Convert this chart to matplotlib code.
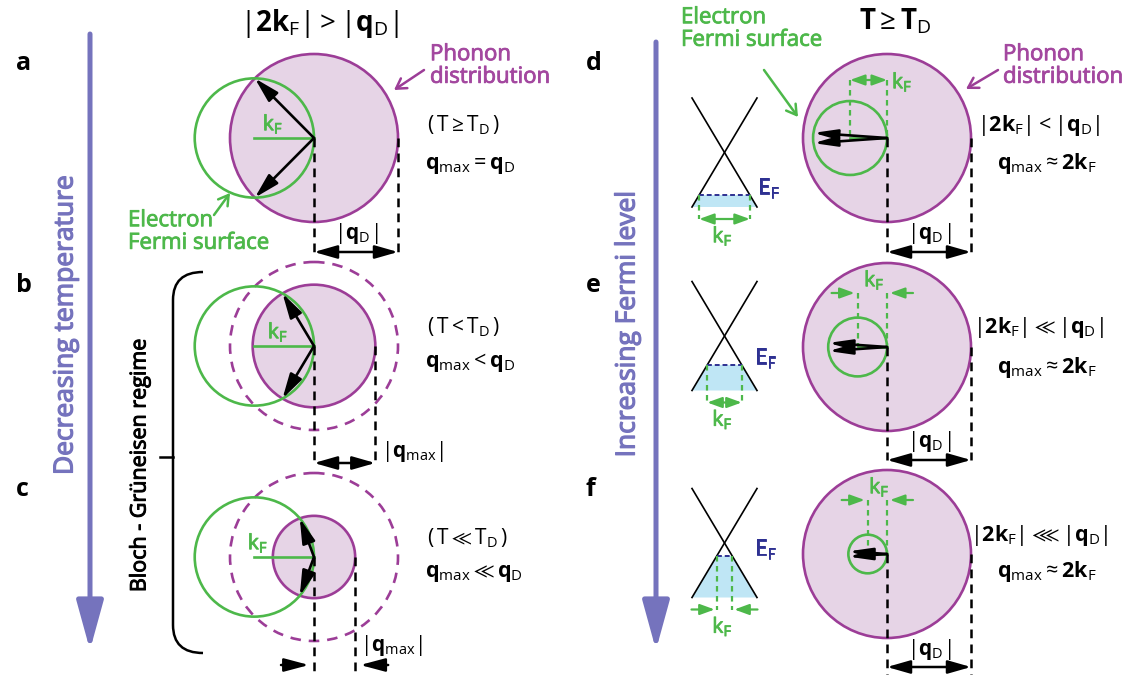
import numpy as np
import matplotlib.pyplot as plt
import matplotlib.patheffects as pe
from matplotlib.patches import Circle, Polygon, PathPatch
from matplotlib.path import Path

plt.rcParams['font.family'] = ['Open Sans', 'DejaVu Sans']
plt.rcParams['mathtext.fontset'] = 'custom'
plt.rcParams['mathtext.rm'] = 'Open Sans'
plt.rcParams['mathtext.bf'] = 'Open Sans:bold'
plt.rcParams['mathtext.it'] = 'Open Sans:italic'
plt.rcParams['mathtext.fallback'] = 'stixsans'

# --- data (radii in units of q_D) ---
left_panels = ["a", "b", "c"]
left_qmax = [1.0, 0.73, 0.49]          # phonon sphere radius / q_D
left_kF = [0.71, 0.71, 0.71]           # electron Fermi radius / q_D
left_temp = [r"$(\,\mathrm{T} \geq \mathrm{T}_\mathrm{D}\,)$",
             r"$(\,\mathrm{T} < \mathrm{T}_\mathrm{D}\,)$",
             r"$(\,\mathrm{T} \ll \mathrm{T}_\mathrm{D}\,)$"]
left_qlab = [r"$\mathbf{q}_\mathrm{max} = \mathbf{q}_\mathrm{D}$",
             r"$\mathbf{q}_\mathrm{max} < \mathbf{q}_\mathrm{D}$",
             r"$\mathbf{q}_\mathrm{max} \ll \mathbf{q}_\mathrm{D}$"]

right_panels = ["d", "e", "f"]
right_kF = [0.44, 0.35, 0.23]          # electron Fermi radius / q_D
right_EF = [0.78, 0.53, 0.24]          # E_F depth below Dirac point / cone half height
right_cmp = [r"$|\mathbf{2k}_\mathrm{F}| < |\mathbf{q}_\mathrm{D}|$",
             r"$|\mathbf{2k}_\mathrm{F}| \ll |\mathbf{q}_\mathrm{D}|$",
             r"$|\mathbf{2k}_\mathrm{F}| \lll |\mathbf{q}_\mathrm{D}|$"]
right_qlab = r"$\mathbf{q}_\mathrm{max} \approx \mathbf{2k}_\mathrm{F}$"

# --- colours / layout ---
PURPLE = '#9c3d97'
PTEXT = '#a3479f'
PFILL = '#e6d4e6'
GREEN = '#4db84a'
BLUE = '#7573bd'
NAVY = '#2e3192'
LBLUE = '#bfe6f5'

RD = 84
left_cx = 314
left_cy = [138, 346, 557]
right_cx = 887
right_cy = [138, 347, 554]
label_y = [63, 285, 490]
cone_x = 724.5
cone_y = [152.5, 336, 543]
cone_hw, cone_hh = 32.5, 54.5

fig = plt.figure(figsize=(11.37, 6.75), dpi=100)
ax = fig.add_axes([0, 0, 1, 1])
ax.set_xlim(0, 1137)
ax.set_ylim(675, 0)
ax.axis('off')


def arrow(x0, y0, x1, y1, color='black', style='-|>', lw=1.8, ms=10, z=5):
    ax.annotate("", xy=(x1, y1), xytext=(x0, y0),
                arrowprops=dict(arrowstyle=style, color=color, lw=lw,
                                shrinkA=0, shrinkB=0, mutation_scale=ms),
                zorder=z)


def semi(color, w=0.6):
    # thicken regular glyphs a little, like a semibold face
    return [pe.withStroke(linewidth=w, foreground=color)]


HEAD = "-|>,head_length=1.5,head_width=0.4"
DHEAD = "<|-|>,head_length=1.4,head_width=0.4"
GHEAD = "-|>,head_length=1.1,head_width=0.4"
GDHEAD = "<|-|>,head_length=1.1,head_width=0.4"
OPEN = "->,head_length=0.5,head_width=0.3"
dash = dict(color='black', lw=1.8, ls=(0, (3.5, 2.5)))
gdash = dict(color=GREEN, lw=1.6, ls=(0, (2.5, 2)))
KF = r"$\mathrm{k}_\mathrm{F}$"

# titles
ax.text(319, 24, r"$|\mathbf{2k}_\mathrm{F}| > |\mathbf{q}_\mathrm{D}|$", fontsize=20,
        ha='center', va='center')
ax.text(895, 22, r"$\mathbf{T} \geq \mathbf{T}_\mathrm{D}$", fontsize=20,
        ha='center', va='center')

# big side arrows
arrow(90, 34, 90, 650, color=BLUE, style="-|>,head_length=2.0,head_width=0.55", lw=3.6, ms=15)
ax.text(66, 325, "Decreasing temperature", color=BLUE, fontsize=19, rotation=90,
        ha='center', va='center', path_effects=semi(BLUE, 0.9))
arrow(656, 42, 656, 650, color=BLUE, style="-|>,head_length=2.0,head_width=0.55", lw=3.6, ms=15)
ax.text(628, 324, "Increasing Fermi level", color=BLUE, fontsize=19, rotation=90,
        ha='center', va='center', path_effects=semi(BLUE, 0.9))

# Bloch-Grüneisen bracket
verts = [(203, 272), (173, 272), (173, 300), (173, 625), (173, 653), (203, 653)]
codes = [Path.MOVETO, Path.CURVE3, Path.CURVE3, Path.LINETO, Path.CURVE3, Path.CURVE3]
ax.add_patch(PathPatch(Path(verts, codes), fc='none', ec='black', lw=1.8))
ax.plot([160, 173], [457, 457], color='black', lw=1.8)
ax.text(140, 465, "Bloch - Grüneisen regime", fontsize=15.5, rotation=90,
        ha='center', va='center', path_effects=semi('black', 0.7))

# ---- left column a-c ----
kf_lab_x = [273, 278, 258]
temp_dy = [-13, -19, -19]
qlab_dy = [27, 16, 16]
for i, lab in enumerate(left_panels):
    cx, cy = left_cx, left_cy[i]
    q = left_qmax[i] * RD
    rF = left_kF[i] * RD
    ax.text(16, label_y[i], lab, fontsize=18, fontweight='bold', ha='left', va='center')
    ax.add_patch(Circle((cx, cy), q, fc=PFILL, ec=PURPLE, lw=1.9, zorder=1))
    if i > 0:
        ax.add_patch(Circle((cx, cy), RD, fc='none', ec=PURPLE, lw=1.9,
                            ls=(0, (4, 3)), zorder=2))
    ax.add_patch(Circle((cx - rF, cy), rF, fc='none', ec=GREEN, lw=1.9, zorder=3))
    # kF radius
    ax.plot([cx - rF, cx], [cy, cy], color=GREEN, lw=1.9, zorder=3)
    ax.text(kf_lab_x[i], cy - 14, KF, color=GREEN, fontsize=15,
            ha='center', va='center', zorder=4, path_effects=semi(GREEN))
    # scattering vectors to the intersection points
    xi = -q ** 2 / (2 * rF)
    yi = np.sqrt(q ** 2 - xi ** 2)
    for s in (-1, 1):
        arrow(cx, cy, cx + xi, cy + s * yi, style=HEAD, lw=1.9, ms=10)
    # q extent
    ybot = 252 if i == 0 else (463 if i == 1 else 690)
    ax.plot([cx, cx], [cy, ybot], **dash, zorder=4)
    ax.plot([cx + q, cx + q], [cy, ybot], **dash, zorder=4)
    ax.text(427, cy + temp_dy[i], left_temp[i], fontsize=15, ha='left', va='center')
    ax.text(425, cy + qlab_dy[i], left_qlab[i], fontsize=15.5, ha='left', va='center')

# q arrows and labels, left
arrow(left_cx, 252, left_cx + RD, 252, style=DHEAD, lw=1.8, ms=10)
ax.text(left_cx + RD / 2, 234, r"$|\mathbf{q}_\mathrm{D}|$", fontsize=15, ha='center', va='center')
q_b = left_qmax[1] * RD
arrow(left_cx, 463, left_cx + q_b, 463, style=DHEAD, lw=1.8, ms=10)
ax.text(left_cx + q_b + 6, 452, r"$|\mathbf{q}_\mathrm{max}|$", fontsize=15, ha='left', va='center')
q_c = left_qmax[2] * RD
arrow(left_cx - 33, 665, left_cx - 5, 665, style=HEAD, lw=1.8, ms=10)
arrow(left_cx + q_c + 33, 665, left_cx + q_c + 5, 665, style=HEAD, lw=1.8, ms=10)
ax.text(left_cx + q_c + 5, 645, r"$|\mathbf{q}_\mathrm{max}|$", fontsize=15, ha='left', va='center')

# annotations in a
ax.text(430, 66, "Phonon\ndistribution", color=PTEXT, fontsize=16, ha='left', va='center',
        linespacing=1.1, path_effects=semi(PTEXT))
arrow(424, 70, 394, 90, color=PURPLE, style=OPEN, lw=1.8, ms=14)
ax.text(128, 232, "Electron\nFermi surface", color=GREEN, fontsize=16, ha='left', va='center',
        linespacing=1.1, path_effects=semi(GREEN))
arrow(214, 215, 230, 193, color=GREEN, style=OPEN, lw=1.8, ms=14)

# ---- right column d-f ----
cmp_dy = [-13, -20, -19]
qr_dy = [25, 21, 18]
for i, lab in enumerate(right_panels):
    cx, cy = right_cx, right_cy[i]
    rF = right_kF[i] * RD
    ax.text(586, label_y[i], lab, fontsize=18, fontweight='bold', ha='left', va='center')
    ax.add_patch(Circle((cx, cy), RD, fc=PFILL, ec=PURPLE, lw=1.9, zorder=1))
    ax.add_patch(Circle((cx - rF, cy), rF, fc='none', ec=GREEN, lw=1.9, zorder=3))
    ax.plot([cx - rF, cx], [cy, cy], color=GREEN, lw=1.9, zorder=3)
    # backscattering vectors (~2kF)
    for s in (-1, 1):
        a = np.deg2rad(180 + s * 8)
        arrow(cx, cy, cx - rF + rF * np.cos(a), cy + rF * np.sin(a),
              style="-|>,head_length=1.4,head_width=0.3", lw=1.9, ms=10)
    # kF marker above the Fermi circle
    ytop = [80, 293, 500][i]
    ax.plot([cx - rF, cx - rF], [ytop, cy], **gdash, zorder=4)
    ax.plot([cx, cx], [ytop, cy], **gdash, zorder=4)
    if i == 0:
        arrow(cx - rF, ytop, cx, ytop, color=GREEN, style=GDHEAD, lw=1.6, ms=8)
        ax.text(cx + 5, ytop + 2, KF, color=GREEN, fontsize=15, ha='left', va='center',
                path_effects=semi(GREEN))
    else:
        arrow(cx - rF - 26, ytop, cx - rF - 3, ytop, color=GREEN, style=GHEAD, lw=1.6, ms=8)
        arrow(cx + 26, ytop, cx + 3, ytop, color=GREEN, style=GHEAD, lw=1.6, ms=8)
        ax.text(cx - rF / 2 + 2, ytop - 13, KF, color=GREEN, fontsize=15,
                ha='center', va='center', path_effects=semi(GREEN))
    # q_D extent
    ybot = [252, 460, 667][i]
    yend = ybot + 15 if i == 2 else ybot
    ax.plot([cx, cx], [cy, yend], **dash, zorder=4)
    ax.plot([cx + RD, cx + RD], [cy, yend], **dash, zorder=4)
    arrow(cx, ybot, cx + RD, ybot, style=DHEAD, lw=1.8, ms=10)
    ax.text(cx + RD / 2, ybot - 18, r"$|\mathbf{q}_\mathrm{D}|$", fontsize=15,
            ha='center', va='center')
    ax.text(cx + 152, cy + cmp_dy[i], right_cmp[i], fontsize=15.5, ha='center', va='center')
    ax.text(cx + 160, cy + qr_dy[i], right_qlab, fontsize=15.5, ha='center', va='center')

    # Dirac cone with Fermi level
    x0, y0 = cone_x, cone_y[i]
    ax.plot([x0 - cone_hw, x0 + cone_hw], [y0 - cone_hh, y0 + cone_hh], color='black', lw=1.2, zorder=3)
    ax.plot([x0 + cone_hw, x0 - cone_hw], [y0 - cone_hh, y0 + cone_hh], color='black', lw=1.2, zorder=3)
    d = right_EF[i] * cone_hh
    hw = right_EF[i] * cone_hw
    yb = y0 + cone_hh
    ax.add_patch(Polygon([(x0 - hw, y0 + d), (x0 + hw, y0 + d), (x0 + cone_hw, yb),
                          (x0 - cone_hw, yb)], fc=LBLUE, ec='none', zorder=1))
    ax.plot([x0 - hw, x0 + hw], [y0 + d, y0 + d], color=NAVY, lw=1.4, ls=(0, (2.5, 1.5)), zorder=3)
    ax.text(x0 + max(hw, 22) + 8, y0 + d - 7, r"$\mathrm{E}_\mathrm{F}$", color=NAVY, fontsize=16,
            ha='left', va='center', path_effects=semi(NAVY))
    ya = yb + 12
    ax.plot([x0 - hw, x0 - hw], [y0 + d, ya], **gdash, zorder=4)
    ax.plot([x0 + hw, x0 + hw], [y0 + d, ya], **gdash, zorder=4)
    if i < 2:
        arrow(x0 - hw, ya, x0 + hw, ya, color=GREEN, style=GDHEAD, lw=1.6, ms=8)
    else:
        arrow(x0 - 33, ya, x0 - hw - 2, ya, color=GREEN, style=GHEAD, lw=1.6, ms=8)
        arrow(x0 + 33, ya, x0 + hw + 2, ya, color=GREEN, style=GHEAD, lw=1.6, ms=8)
    ax.text(x0 - 2, ya + 17, KF, color=GREEN, fontsize=15, ha='center', va='center',
            path_effects=semi(GREEN))

# annotations in d
ax.text(681, 29, "Electron\nFermi surface", color=GREEN, fontsize=16, ha='left', va='center',
        linespacing=1.1, path_effects=semi(GREEN))
arrow(764, 70, 798, 117, color=GREEN, style=OPEN, lw=1.8, ms=14)
ax.text(1003, 66, "Phonon\ndistribution", color=PTEXT, fontsize=16, ha='left', va='center',
        linespacing=1.1, path_effects=semi(PTEXT))
arrow(998, 70, 966, 89, color=PURPLE, style=OPEN, lw=1.8, ms=14)

fig.savefig("out.png", dpi=100)
